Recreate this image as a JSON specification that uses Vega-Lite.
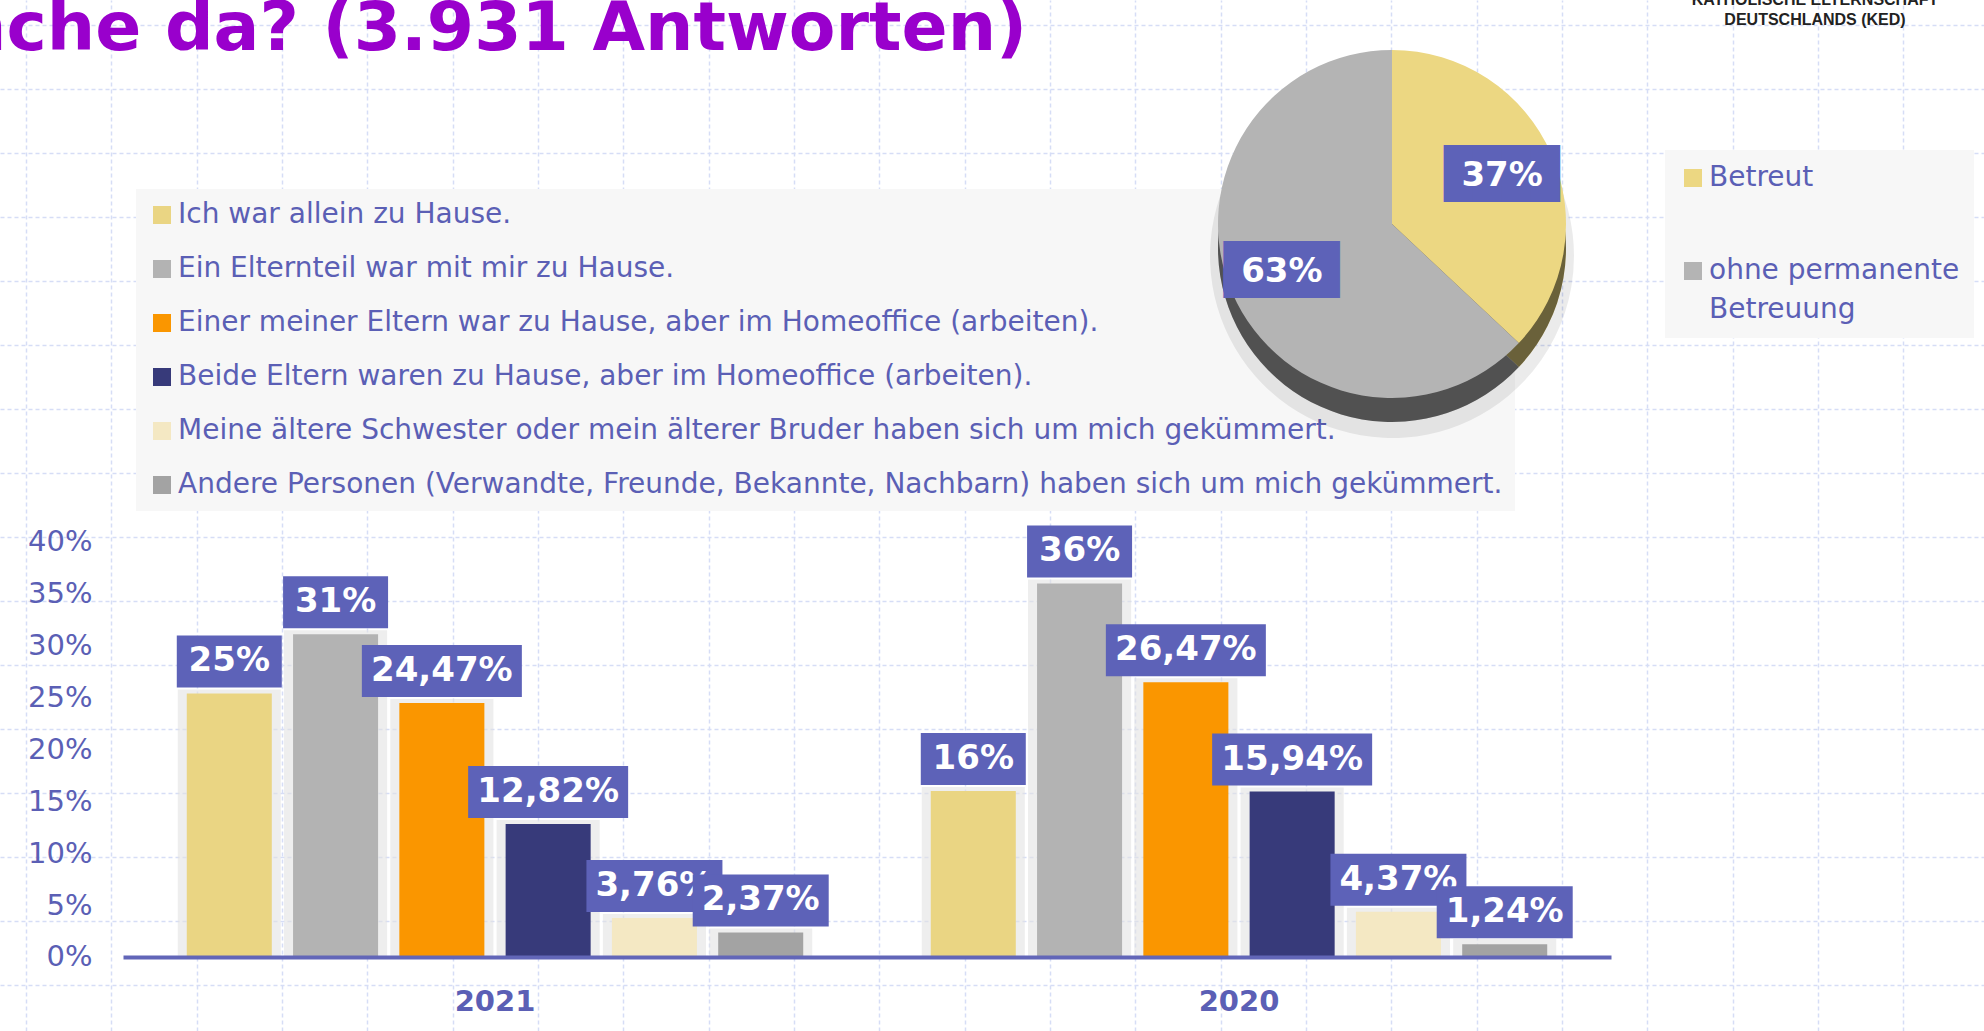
{
  "$schema": "https://vega.github.io/schema/vega-lite/v6.json",
  "autosize": "none",
  "padding": {"left": 123, "top": 0, "right": 1861, "bottom": 1031},
  "background": "#ffffff",
  "datasets": {
    "balken": [
      {"Jahr": "2021", "Kategorie": "Ich war allein zu Hause.", "Anteil": 25.4, "Label": "25%"},
      {"Jahr": "2021", "Kategorie": "Ein Elternteil war mit mir zu Hause.", "Anteil": 31.1, "Label": "31%"},
      {"Jahr": "2021", "Kategorie": "Einer meiner Eltern war zu Hause, aber im Homeoffice (arbeiten).", "Anteil": 24.47, "Label": "24,47%"},
      {"Jahr": "2021", "Kategorie": "Beide Eltern waren zu Hause, aber im Homeoffice (arbeiten).", "Anteil": 12.82, "Label": "12,82%"},
      {"Jahr": "2021", "Kategorie": "Meine ältere Schwester oder mein älterer Bruder haben sich um mich gekümmert.", "Anteil": 3.76, "Label": "3,76%"},
      {"Jahr": "2021", "Kategorie": "Andere Personen (Verwandte, Freunde, Bekannte, Nachbarn) haben sich um mich gekümmert.", "Anteil": 2.37, "Label": "2,37%"},
      {"Jahr": "2020", "Kategorie": "Ich war allein zu Hause.", "Anteil": 16, "Label": "16%"},
      {"Jahr": "2020", "Kategorie": "Ein Elternteil war mit mir zu Hause.", "Anteil": 36, "Label": "36%"},
      {"Jahr": "2020", "Kategorie": "Einer meiner Eltern war zu Hause, aber im Homeoffice (arbeiten).", "Anteil": 26.47, "Label": "26,47%"},
      {"Jahr": "2020", "Kategorie": "Beide Eltern waren zu Hause, aber im Homeoffice (arbeiten).", "Anteil": 15.94, "Label": "15,94%"},
      {"Jahr": "2020", "Kategorie": "Meine ältere Schwester oder mein älterer Bruder haben sich um mich gekümmert.", "Anteil": 4.37, "Label": "4,37%"},
      {"Jahr": "2020", "Kategorie": "Andere Personen (Verwandte, Freunde, Bekannte, Nachbarn) haben sich um mich gekümmert.", "Anteil": 1.24, "Label": "1,24%"}
    ],
    "kreis": [
      {"Betreuung": "Betreut", "Anteil": 37, "Label": "37%"},
      {"Betreuung": "ohne permanente Betreuung", "Anteil": 63, "Label": "63%"}
    ]
  },
  "title": {
    "text": "nche da? (3.931 Antworten)",
    "anchor": "start",
    "frame": "group",
    "dx": -165,
    "dy": 72,
    "offset": 0,
    "font": "DejaVu Sans",
    "fontSize": 68,
    "fontWeight": "bold",
    "color": "#9900cc"
  },
  "bounds": "flush",
  "spacing": 0,
  "resolve": {
    "scale": {"color": "independent", "fill": "independent"},
    "legend": {"color": "independent", "fill": "independent"}
  },
  "hconcat": [
    {
      "width": 1000,
      "height": 1031,
      "resolve": {
        "scale": {"x": "independent", "y": "independent"},
        "axis": {"x": "independent", "y": "independent"}
      },
      "layer": [
        {
          "data": {"values": [{}]},
          "mark": {"type": "point", "opacity": 0},
          "encoding": {
            "x": {
              "datum": 0,
              "type": "quantitative",
              "title": null,
              "scale": {"domain": [-0.3047, 22.946], "range": [-123, 1861], "nice": false, "zero": false},
              "axis": {"orient": "top", "values": [0, 1, 2, 3, 4, 5, 6, 7, 8, 9, 10, 11, 12, 13, 14, 15, 16, 17, 18, 19, 20, 21, 22], "grid": true, "labels": false, "ticks": false, "domain": false, "gridColor": "#d6ddf6", "gridDash": [4, 3], "gridWidth": 1.5}
            },
            "y": {
              "datum": 0,
              "type": "quantitative",
              "title": null,
              "scale": {"domain": [15.72, -0.3906], "range": [1031, 0], "nice": false, "zero": false},
              "axis": {"orient": "left", "values": [0, 1, 2, 3, 4, 5, 6, 7, 8, 9, 10, 11, 12, 13, 14, 15], "grid": true, "labels": false, "ticks": false, "domain": false, "gridColor": "#d6ddf6", "gridDash": [4, 3], "gridWidth": 1.5}
            }
          }
        },
        {
          "data": {"name": "balken"},
          "encoding": {
            "x": {
              "field": "Jahr",
              "type": "nominal",
              "sort": ["2021", "2020"],
              "title": null,
              "scale": {"range": [0, 1488], "paddingInner": 0, "paddingOuter": 0},
              "axis": {"orient": "bottom", "offset": -74, "labelAngle": 0, "ticks": false, "grid": false, "domainColor": "#6266b8", "domainWidth": 4, "labelFontSize": 29, "labelFontWeight": "bold", "labelColor": "#5b5fb5", "labelPadding": 30, "zindex": 1}
            },
            "xOffset": {
              "field": "Kategorie",
              "type": "nominal",
              "sort": [
                "Ich war allein zu Hause.",
                "Ein Elternteil war mit mir zu Hause.",
                "Einer meiner Eltern war zu Hause, aber im Homeoffice (arbeiten).",
                "Beide Eltern waren zu Hause, aber im Homeoffice (arbeiten).",
                "Meine ältere Schwester oder mein älterer Bruder haben sich um mich gekümmert.",
                "Andere Personen (Verwandte, Freunde, Bekannte, Nachbarn) haben sich um mich gekümmert."
              ],
              "scale": {"paddingInner": 0.2, "paddingOuter": 0.6}
            },
            "y": {
              "field": "Anteil",
              "type": "quantitative",
              "stack": null,
              "title": null,
              "scale": {"domain": [-7.1325, 92.24], "nice": false, "zero": false},
              "axis": {"orient": "left", "values": [0, 5, 10, 15, 20, 25, 30, 35, 40], "labelExpr": "datum.value + '%'", "domain": false, "ticks": false, "grid": false, "labelPadding": 31, "labelFontSize": 29, "labelColor": "#5b5fb5"}
            }
          },
          "layer": [
            {
              "mark": {"type": "bar", "fill": "#e3e3e3", "stroke": "#e3e3e3", "strokeWidth": 18, "opacity": 0.6, "yOffset": 5, "y2Offset": -9},
              "encoding": {"y2": {"datum": 0}}
            },
            {
              "mark": {"type": "bar"},
              "encoding": {
                "y2": {"datum": 0},
                "color": {
                  "field": "Kategorie",
                  "type": "nominal",
                  "scale": {
                    "domain": [
                      "Ich war allein zu Hause.",
                      "Ein Elternteil war mit mir zu Hause.",
                      "Einer meiner Eltern war zu Hause, aber im Homeoffice (arbeiten).",
                      "Beide Eltern waren zu Hause, aber im Homeoffice (arbeiten).",
                      "Meine ältere Schwester oder mein älterer Bruder haben sich um mich gekümmert.",
                      "Andere Personen (Verwandte, Freunde, Bekannte, Nachbarn) haben sich um mich gekümmert."
                    ],
                    "range": ["#ead583", "#b3b3b3", "#fa9600", "#373a7a", "#f4e8c3", "#a3a3a3"]
                  },
                  "legend": {
                    "orient": "none",
                    "legendX": 13,
                    "legendY": 189,
                    "direction": "vertical",
                    "title": null,
                    "symbolType": "square",
                    "symbolSize": 324,
                    "symbolStrokeWidth": 0,
                    "labelFontSize": 28,
                    "labelFont": "DejaVu Sans",
                    "labelColor": "#5b5fb5",
                    "labelLimit": 0,
                    "labelOffset": 2,
                    "rowPadding": 26,
                    "padding": 12,
                    "fillColor": "#f7f7f7"
                  }
                }
              }
            },
            {
              "transform": [{"filter": "length(datum.Label) == 3"}],
              "mark": {"type": "bar", "width": 105, "color": "#5d62b8", "yOffset": -58, "y2Offset": -6},
              "encoding": {"y2": {"field": "Anteil"}}
            },
            {
              "transform": [{"filter": "length(datum.Label) == 6"}],
              "mark": {"type": "bar", "width": 160, "color": "#5d62b8", "yOffset": -58, "y2Offset": -6},
              "encoding": {"y2": {"field": "Anteil"}}
            },
            {
              "transform": [{"filter": "length(datum.Label) == 5 && indexof(datum.Kategorie, 'Andere') < 0"}],
              "mark": {"type": "bar", "width": 136, "color": "#5d62b8", "yOffset": -58, "y2Offset": -6},
              "encoding": {"y2": {"field": "Anteil"}}
            },
            {
              "transform": [{"filter": "indexof(datum.Kategorie, 'Andere') < 0"}],
              "mark": {"type": "text", "font": "DejaVu Sans", "fontSize": 34, "fontWeight": "bold", "color": "#ffffff", "baseline": "middle", "yOffset": -32},
              "encoding": {"text": {"field": "Label", "type": "nominal"}}
            },
            {
              "transform": [{"filter": "indexof(datum.Kategorie, 'Andere') == 0"}],
              "mark": {"type": "bar", "width": 136, "color": "#5d62b8", "yOffset": -58, "y2Offset": -6},
              "encoding": {"y2": {"field": "Anteil"}}
            },
            {
              "transform": [{"filter": "indexof(datum.Kategorie, 'Andere') == 0"}],
              "mark": {"type": "text", "font": "DejaVu Sans", "fontSize": 34, "fontWeight": "bold", "color": "#ffffff", "baseline": "middle", "yOffset": -32},
              "encoding": {"text": {"field": "Label", "type": "nominal"}}
            }
          ]
        }
      ]
    },
    {
      "width": 538,
      "height": 448,
      "data": {"name": "kreis"},
      "title": {
        "text": ["KATHOLISCHE  ELTERNSCHAFT", "DEUTSCHLANDS (KED)"],
        "anchor": "middle",
        "frame": "group",
        "dx": 423,
        "dy": 28,
        "offset": 0,
        "font": "Liberation Sans",
        "fontSize": 16,
        "fontWeight": "bold",
        "lineHeight": 20,
        "color": "#222222"
      },
      "encoding": {
        "theta": {"field": "Anteil", "type": "quantitative", "stack": true}
      },
      "layer": [
        {
          "mark": {"type": "arc", "outerRadius": 182, "yOffset": 32, "fill": "#000000", "opacity": 0.08}
        },
        {
          "mark": {"type": "arc", "outerRadius": 174, "yOffset": 24},
          "encoding": {
            "fill": {
              "field": "Betreuung",
              "type": "nominal",
              "scale": {"domain": ["Betreut", "ohne permanente Betreuung"], "range": ["#ecd782", "#b4b4b4"]},
              "legend": {
                "orient": "none",
                "legendX": 542,
                "legendY": 150,
                "direction": "vertical",
                "title": null,
                "symbolType": "square",
                "symbolSize": 324,
                "symbolStrokeWidth": 0,
                "labelFontSize": 28,
                "labelFont": "DejaVu Sans",
                "labelColor": "#5b5fb5",
                "labelLimit": 0,
                "labelOffset": 2,
                "rowPadding": 65,
                "padding": 14,
                "fillColor": "#f7f7f7",
                "labelExpr": "datum.label == 'ohne permanente Betreuung' ? ['ohne permanente', 'Betreuung'] : datum.label"
              }
            }
          }
        },
        {
          "mark": {"type": "arc", "outerRadius": 174, "yOffset": 24, "fill": "#000000", "opacity": 0.55}
        },
        {
          "mark": {"type": "arc", "outerRadius": 174},
          "encoding": {
            "fill": {
              "field": "Betreuung",
              "type": "nominal",
              "scale": {"domain": ["Betreut", "ohne permanente Betreuung"], "range": ["#ecd782", "#b4b4b4"]},
              "legend": {
                "orient": "none",
                "legendX": 542,
                "legendY": 150,
                "direction": "vertical",
                "title": null,
                "symbolType": "square",
                "symbolSize": 324,
                "symbolStrokeWidth": 0,
                "labelFontSize": 28,
                "labelFont": "DejaVu Sans",
                "labelColor": "#5b5fb5",
                "labelLimit": 0,
                "labelOffset": 2,
                "rowPadding": 65,
                "padding": 14,
                "fillColor": "#f7f7f7",
                "labelExpr": "datum.label == 'ohne permanente Betreuung' ? ['ohne permanente', 'Betreuung'] : datum.label"
              }
            }
          }
        },
        {
          "mark": {"type": "text", "radius": 120, "font": "DejaVu Sans Mono", "fontSize": 48, "color": "#5d62b8", "baseline": "middle"},
          "encoding": {
            "detail": {"field": "Betreuung", "type": "nominal"},
            "text": {"value": "████"}
          }
        },
        {
          "mark": {"type": "text", "radius": 120, "font": "DejaVu Sans", "fontSize": 34, "fontWeight": "bold", "color": "#ffffff", "baseline": "middle"},
          "encoding": {
            "detail": {"field": "Betreuung", "type": "nominal"},
            "text": {"field": "Label", "type": "nominal"}
          }
        }
      ]
    }
  ],
  "config": {
    "view": {"stroke": null},
    "font": "DejaVu Sans",
    "style": {"guide-label": {"lineHeight": 39}}
  }
}
